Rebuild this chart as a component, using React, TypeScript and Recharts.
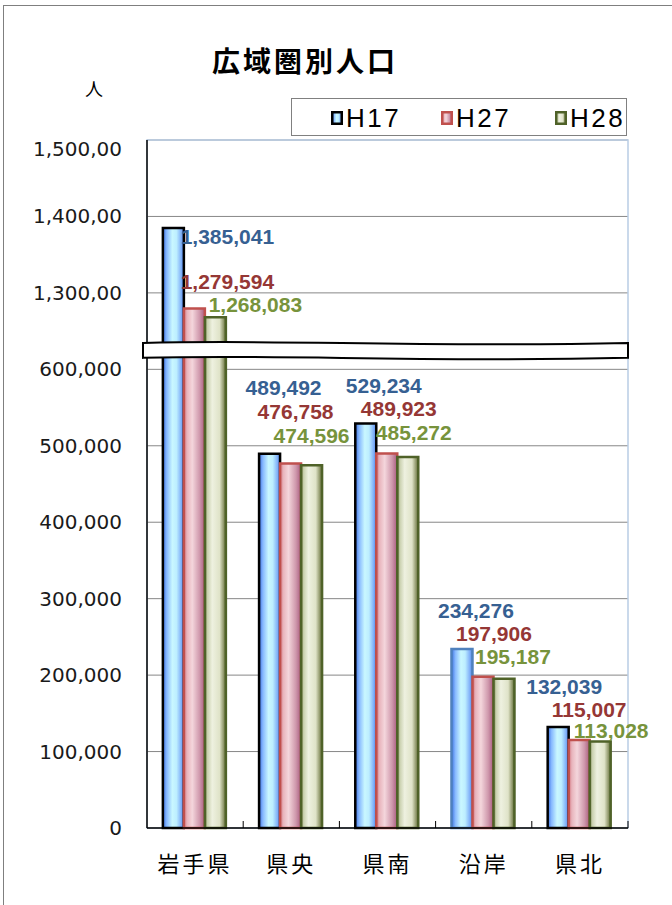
import React from 'react'
import {
  BarChart,
  Bar,
  XAxis,
  YAxis,
  CartesianGrid,
  Cell,
  LabelList,
  ReferenceArea,
} from 'recharts'

const CATEGORIES = ['岩手県', '県央', '県南', '沿岸', '県北']
const H17 = [1385041, 489492, 529234, 234276, 132039]
const H27 = [1279594, 476758, 489923, 197906, 115007]
const H28 = [1268083, 474596, 485272, 195187, 113028]
const SERIES_NAMES = ['H17', 'H27', 'H28']
const Y_TICKS = [0, 100000, 200000, 300000, 400000, 500000, 600000, 700000, 800000, 900000]

// broken axis: everything above 1,200,000 is pulled down by 600,000
const BREAK_FROM = 1200000
const BREAK_SHIFT = 600000
const toAxis = (v: number) => (v > BREAK_FROM ? v - BREAK_SHIFT : v)
// Excel cuts the long labels off, keep it like that
const tickLabel = (t: number) =>
  t <= 600000
    ? t.toLocaleString('en-US')
    : (t + BREAK_SHIFT).toLocaleString('en-US').slice(0, 8)

const data = CATEGORIES.map((name, i) => ({
  name,
  h17: H17[i],
  h27: H27[i],
  h28: H28[i],
  h17Axis: toAxis(H17[i]),
  h27Axis: toAxis(H27[i]),
  h28Axis: toAxis(H28[i]),
}))

const W = 672
const H = 905
const PLOT_LEFT = 147
const PLOT_RIGHT = 628
const PLOT_TOP = 140
const PLOT_BOTTOM = 828
const BAND = (PLOT_RIGHT - PLOT_LEFT) / CATEGORIES.length

const COLORS = {
  h17: { stroke: '#000000', text: '#366092', legend: '#000000' },
  h27: { stroke: '#c0504d', text: '#953735', legend: '#c0504d' },
  h28: { stroke: '#4f6228', text: '#77933c', legend: '#4f6228' },
}

// hand placed data labels in the original, offset from bar top centre
const LABEL_OFFSET: Record<string, number[][]> = {
  h17: [[54, 9], [14, -66], [18, -38], [14, -38], [6, -41]],
  h27: [[33, -27], [5, -52], [12, -45], [11, -43], [10, -31]],
  h28: [[40, -13], [0, -30], [6, -25], [9, -22], [11, -11]],
}

const makeLabel = (key: string) => (props: any) => {
  const { x, y, width, value, index } = props
  const [dx, dy] = LABEL_OFFSET[key][index]
  return (
    <text
      x={Number(x) + Number(width) / 2 + dx}
      y={Number(y) + dy}
      textAnchor="middle"
      dominantBaseline="central"
      fill={COLORS[key as keyof typeof COLORS].text}
      fontFamily="'Liberation Sans', Arial, sans-serif"
      fontWeight="bold"
      fontSize={21}
    >
      {Number(value).toLocaleString('en-US')}
    </text>
  )
}

const CategoryTick = (props: any) => {
  const { x, y, payload } = props
  const bx = x + BAND / 2
  return (
    <g>
      <line x1={bx} x2={bx} y1={y} y2={y - 7} stroke="#000" />
      <text
        x={x}
        y={y + 34}
        textAnchor="middle"
        dominantBaseline="central"
        fontFamily="'Noto Sans CJK JP', sans-serif"
        fontSize={22}
        letterSpacing={3}
        fill="#000"
      >
        {payload.value}
      </text>
    </g>
  )
}

const ValueTick = (props: any) => {
  const { x, y, payload } = props
  // top label sits a little under its gridline in the original
  const shift = payload.value === Y_TICKS[Y_TICKS.length - 1] ? 9 : 0
  return (
    <text
      x={x}
      y={y + shift}
      textAnchor="end"
      dominantBaseline="central"
      fill="#1a1a1a"
      fontSize={20}
      fontFamily="'DejaVu Sans', Verdana, sans-serif"
    >
      {tickLabel(payload.value)}
    </text>
  )
}

const AxisBreak = (props: any) => {
  const { x, y, width, height } = props
  const x0 = x - 4
  const x1 = x + width
  const w = x1 - x0
  const yb = y + height
  const d =
    `M${x0},${y} C${x0 + 0.3 * w},${y - 4} ${x0 + 0.55 * w},${y + 5} ${x1},${y} ` +
    `L${x1},${yb} C${x0 + 0.55 * w},${yb + 5} ${x0 + 0.3 * w},${yb - 4} ${x0},${yb} Z`
  return <path d={d} fill="#fff" stroke="#000" strokeWidth={2} />
}

const LegendBox = () => {
  const grads = ['url(#g17)', 'url(#g27)', 'url(#g28)']
  const keys = ['h17', 'h27', 'h28'] as const
  return (
    <div
      style={{
        position: 'absolute',
        left: 291,
        top: 98,
        width: 336,
        height: 38,
        boxSizing: 'border-box',
        border: '1px solid #808080',
        background: '#fff',
      }}
    >
      {SERIES_NAMES.map((name, i) => (
        <div
          key={name}
          style={{
            position: 'absolute',
            left: [39, 149, 263][i],
            top: 2,
            display: 'flex',
            alignItems: 'center',
            height: 34,
          }}
        >
          <svg width={12} height={14} style={{ marginRight: 3 }}>
            <rect
              x={1.25}
              y={1.25}
              width={9.5}
              height={11.5}
              fill={grads[i]}
              stroke={COLORS[keys[i]].legend}
              strokeWidth={2.5}
            />
          </svg>
          <span
            style={{
              fontFamily: "'Liberation Sans', Arial, sans-serif",
              fontSize: 26,
              letterSpacing: 2.5,
              color: '#000',
            }}
          >
            {name}
          </span>
        </div>
      ))}
    </div>
  )
}

export default function App() {
  return (
    <div style={{ position: 'absolute', left: 0, top: 0, width: W, height: H, overflow: 'hidden', background: '#fff' }}>
      <div
        style={{
          position: 'absolute',
          left: 3,
          top: 5,
          width: 700,
          height: 940,
          border: '1px solid #7f7f7f',
        }}
      />
      <div
        style={{
          position: 'absolute',
          left: 0,
          width: 610,
          top: 42,
          textAlign: 'center',
          fontFamily: "'Noto Sans CJK JP', sans-serif",
          fontWeight: 'bold',
          fontSize: 28,
          letterSpacing: 3,
          lineHeight: '36px',
        }}
      >
        広域圏別人口
      </div>
      <div
        style={{
          position: 'absolute',
          left: 85,
          top: 76,
          fontFamily: "'Noto Sans CJK JP', sans-serif",
          fontSize: 18,
          lineHeight: '24px',
        }}
      >
        人
      </div>
      <div style={{ position: 'absolute', left: 0, top: 0 }}>
        <BarChart
          width={W}
          height={H}
          data={data}
          margin={{ top: PLOT_TOP, right: W - PLOT_RIGHT, bottom: 0, left: 0 }}
          barCategoryGap="16.5%"
          barGap={0}
        >
          <defs>
            <linearGradient id="g17" x1="0" y1="0" x2="1" y2="0">
              <stop offset="0%" stopColor="#3a6fe0" />
              <stop offset="18%" stopColor="#86b8ff" />
              <stop offset="45%" stopColor="#c9f7ff" />
              <stop offset="65%" stopColor="#bdeeff" />
              <stop offset="88%" stopColor="#7eaef8" />
              <stop offset="100%" stopColor="#4a7fe6" />
            </linearGradient>
            <linearGradient id="g27" x1="0" y1="0" x2="1" y2="0">
              <stop offset="0%" stopColor="#d0707a" />
              <stop offset="15%" stopColor="#e8b4bc" />
              <stop offset="40%" stopColor="#f4d6dc" />
              <stop offset="75%" stopColor="#cf98ac" />
              <stop offset="100%" stopColor="#a85a7e" />
            </linearGradient>
            <linearGradient id="g28" x1="0" y1="0" x2="1" y2="0">
              <stop offset="0%" stopColor="#6a7840" />
              <stop offset="12%" stopColor="#c9d0ae" />
              <stop offset="35%" stopColor="#eef1e0" />
              <stop offset="70%" stopColor="#dfe3c8" />
              <stop offset="90%" stopColor="#8c9466" />
              <stop offset="100%" stopColor="#56622e" />
            </linearGradient>
          </defs>
          <CartesianGrid vertical={false} stroke="#878787" />
          <ReferenceArea y1={0} y2={900000} fill="none" stroke="#b9cde5" strokeWidth={1.5} />
          <XAxis
            dataKey="name"
            height={H - PLOT_BOTTOM}
            axisLine={{ stroke: '#000', strokeWidth: 1.5 }}
            tickLine={false}
            tickSize={0}
            tickMargin={0}
            interval={0}
            tick={(p: any) => <CategoryTick {...p} />}
          />
          <YAxis
            width={PLOT_LEFT}
            domain={[0, 900000]}
            ticks={Y_TICKS}
            interval={0}
            axisLine={{ stroke: '#000', strokeWidth: 1.5 }}
            tickLine={false}
            tickSize={0}
            tickMargin={25}
            tick={(p: any) => <ValueTick {...p} />}
          />
          <Bar dataKey="h17Axis" name="H17" fill="url(#g17)" strokeWidth={2.5} isAnimationActive={false}>
            {data.map((d, i) => (
              <Cell key={`h17-${d.name}`} stroke={i === 3 ? '#4f81bd' : COLORS.h17.stroke} />
            ))}
            <LabelList dataKey="h17" content={makeLabel('h17')} />
          </Bar>
          <Bar dataKey="h27Axis" name="H27" fill="url(#g27)" stroke={COLORS.h27.stroke} strokeWidth={2.5} isAnimationActive={false}>
            <LabelList dataKey="h27" content={makeLabel('h27')} />
          </Bar>
          <Bar dataKey="h28Axis" name="H28" fill="url(#g28)" stroke={COLORS.h28.stroke} strokeWidth={2.5} isAnimationActive={false}>
            <LabelList dataKey="h28" content={makeLabel('h28')} />
          </Bar>
          <ReferenceArea
            y1={615000}
            y2={634500}
            shape={(p: any) => <AxisBreak {...p} />}
            zIndex={600}
            ifOverflow="visible"
          />
        </BarChart>
      </div>
      <LegendBox />
    </div>
  )
}
